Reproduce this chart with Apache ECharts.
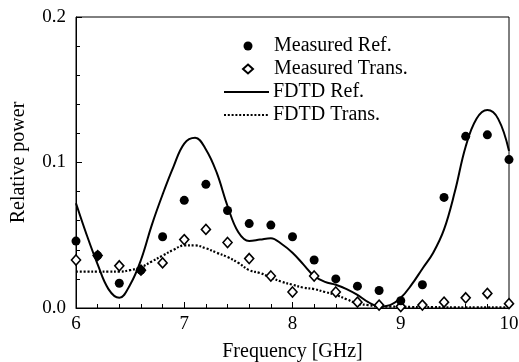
<!DOCTYPE html>
<html><head><meta charset="utf-8">
<script src="https://cdn.jsdelivr.net/npm/echarts@6/dist/echarts.min.js"></script>
<style>html,body{margin:0;padding:0;background:#fff}#c{width:519px;height:362px}</style>
</head><body><div id="c"></div>
<script>
const measFreq = [6.0,6.2,6.4,6.6,6.8,7.0,7.2,7.4,7.6,7.8,8.0,8.2,8.4,8.6,8.8,9.0,9.2,9.4,9.6,9.8,10.0];
const measRef = [0.046,0.036,0.017,0.026,0.049,0.074,0.085,0.067,0.058,0.057,0.049,0.033,0.020,0.015,0.012,0.005,0.016,0.076,0.118,0.119,0.102];
const measTrans = [0.033,0.036,0.029,0.026,0.031,0.047,0.054,0.045,0.034,0.022,0.011,0.022,0.011,0.004,0.002,0.001,0.002,0.004,0.007,0.010,0.003];
const fdtdFreq = [6.0,6.1,6.2,6.3,6.4,6.5,6.6,6.7,6.8,6.9,7.0,7.1,7.2,7.3,7.4,7.5,7.6,7.7,7.8,7.9,8.0,8.1,8.2,8.3,8.4,8.5,8.6,8.7,8.8,8.9,9.0,9.1,9.2,9.3,9.4,9.5,9.6,9.7,9.8,9.9,10.0];
const fdtdRef = [0.072,0.050,0.030,0.013,0.007,0.016,0.033,0.057,0.078,0.097,0.113,0.117,0.109,0.093,0.070,0.052,0.046,0.047,0.048,0.044,0.038,0.030,0.022,0.018,0.016,0.013,0.009,0.004,0.001,0.002,0.007,0.016,0.027,0.038,0.054,0.080,0.111,0.130,0.136,0.130,0.108];
const fdtdTrans = [0.025,0.025,0.025,0.025,0.025,0.026,0.028,0.032,0.036,0.040,0.043,0.043,0.041,0.038,0.035,0.031,0.026,0.024,0.021,0.018,0.016,0.014,0.013,0.011,0.009,0.006,0.003,0.002,0.001,0.001,0.0008,0.0007,0.0006,0.0006,0.0005,0.0005,0.0005,0.0005,0.0005,0.0005,0.0005];
const xTicks = [6,7,8,9,10];
const yTicks = [0.0,0.1,0.2];

const pairs = (xs, ys) => xs.map((x,i)=>[x, ys[i]]);
const font = 'Liberation Serif';
const chart = echarts.init(document.getElementById('c'), null, {renderer:'canvas'});
chart.setOption({
  animation:false,
  backgroundColor:'#fff',
  grid:{left:76,right:10,top:17,bottom:54,containLabel:false,outerBoundsMode:'none',show:true,borderColor:'#000',borderWidth:1,backgroundColor:'transparent'},
  legend:[
    {data:['Measured Ref.','Measured Trans.'],orient:'vertical',left:237,top:31,itemWidth:10,itemHeight:9,itemGap:3,
     textStyle:{fontFamily:font,fontSize:20,color:'#000',padding:[0,0,0,16]}},
    {data:['FDTD Ref.','FDTD Trans.'],orient:'vertical',left:218,top:77,itemWidth:45,itemHeight:9,itemGap:3,
     itemStyle:{opacity:0},
     textStyle:{fontFamily:font,fontSize:20,color:'#000',padding:[0,0,0,-1]}}
  ],
  xAxis:{type:'value',min:xTicks[0],max:xTicks[xTicks.length-1],interval:1,
    name:'Frequency [GHz]',nameLocation:'middle',nameGap:34,
    nameTextStyle:{fontFamily:font,fontSize:20,color:'#000'},
    axisLine:{lineStyle:{color:'#000',width:1}},
    axisTick:{inside:true,length:6,lineStyle:{color:'#000'}},
    minorTick:{show:true,splitNumber:5,length:4,lineStyle:{color:'#000'}},
    splitLine:{show:false},
    axisLabel:{fontFamily:font,fontSize:19,color:'#000',margin:7}},
  yAxis:{type:'value',min:yTicks[0],max:yTicks[yTicks.length-1],interval:0.1,
    name:'Relative power',nameLocation:'middle',nameGap:47,
    nameTextStyle:{fontFamily:font,fontSize:20,color:'#000'},
    axisLine:{show:true,lineStyle:{color:'#000',width:1}},
    axisTick:{show:true,inside:true,length:6,lineStyle:{color:'#000'}},
    minorTick:{show:true,splitNumber:5,length:4,lineStyle:{color:'#000'}},
    splitLine:{show:false},
    axisLabel:{fontFamily:font,fontSize:19,color:'#000',margin:10,formatter:v=>v.toFixed(1)}},
  series:[
    {name:'FDTD Ref.',type:'line',data:pairs(fdtdFreq,fdtdRef),smooth:0.4,showSymbol:false,symbol:'none',
     lineStyle:{color:'#000',width:2},itemStyle:{color:'#000'},z:2},
    {name:'FDTD Trans.',type:'line',data:pairs(fdtdFreq,fdtdTrans),smooth:0.4,showSymbol:false,symbol:'none',
     lineStyle:{color:'#000',width:2.2,type:[2,1.8]},itemStyle:{color:'#000'},z:2},
    {name:'Measured Ref.',type:'scatter',data:pairs(measFreq,measRef),symbol:'circle',symbolSize:9,
     itemStyle:{color:'#000',opacity:1},z:4},
    {name:'Measured Trans.',type:'scatter',data:pairs(measFreq,measTrans),symbol:'diamond',symbolSize:[9,10],
     itemStyle:{color:'#fff',borderColor:'#000',borderWidth:1.6,opacity:1},z:3}
  ]
});
</script></body></html>
